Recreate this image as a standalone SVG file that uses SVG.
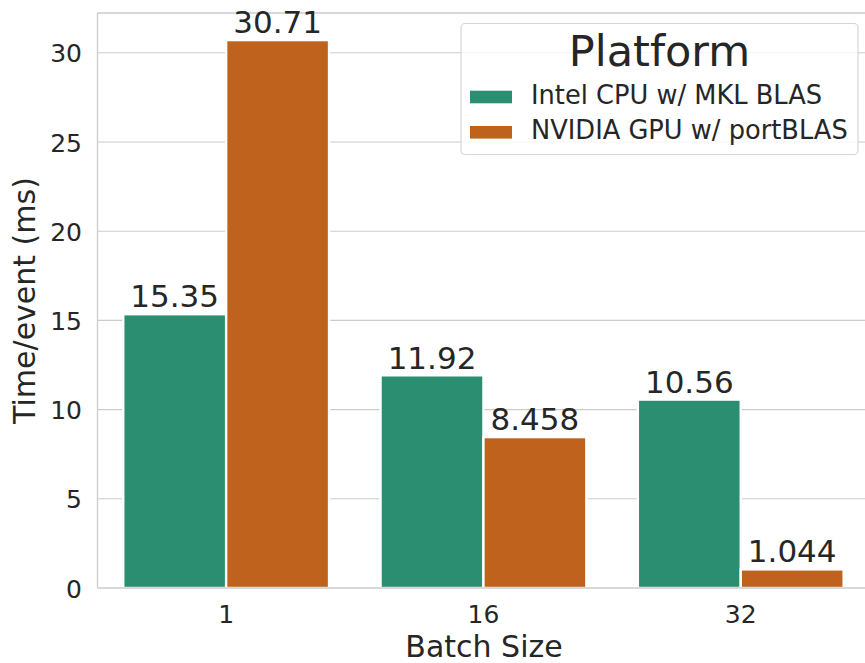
<svg xmlns="http://www.w3.org/2000/svg" width="865" height="663" viewBox="0 0 865 663">
<style>
text{font-family:"DejaVu Sans","Liberation Sans",sans-serif;fill:#262626}
.grid{stroke:#cccccc;stroke-width:1.1}
.spine{stroke:#cccccc;stroke-width:1.3;fill:none}
.ytick{font-size:25px;text-anchor:end}
.xtick{font-size:25px;text-anchor:middle}
.val{font-size:31px;text-anchor:middle}
.axlab{font-size:30px;text-anchor:middle}
.cpu{fill:#2B8E70;stroke:#ffffff;stroke-width:2.4}
.gpu{fill:#BE621D;stroke:#ffffff;stroke-width:2.4}
.leg{font-size:25.7px}
</style>
<rect width="865" height="663" fill="#ffffff"/>
<g id="grid">
<line class="grid" x1="97.5" y1="498.8" x2="865" y2="498.8"/>
<line class="grid" x1="97.5" y1="409.6" x2="865" y2="409.6"/>
<line class="grid" x1="97.5" y1="320.4" x2="865" y2="320.4"/>
<line class="grid" x1="97.5" y1="231.2" x2="865" y2="231.2"/>
<line class="grid" x1="97.5" y1="142" x2="865" y2="142"/>
<line class="grid" x1="97.5" y1="52.8" x2="865" y2="52.8"/>
</g>
<g id="bars">
<rect class="cpu" x="123.25" y="314.2" width="102.9" height="273.8"/>
<rect class="gpu" x="226.15" y="40.1" width="102.9" height="547.9"/>
<rect class="cpu" x="380.55" y="375.3" width="102.9" height="212.7"/>
<rect class="gpu" x="483.45" y="437.1" width="102.9" height="150.9"/>
<rect class="cpu" x="637.85" y="399.6" width="102.9" height="188.4"/>
<rect class="gpu" x="740.75" y="569.4" width="102.9" height="18.6"/>
</g>
<g id="spines">
<line class="spine" x1="97.5" y1="13" x2="97.5" y2="588"/>
<line class="spine" x1="97.5" y1="588" x2="865" y2="588"/>
<line class="spine" x1="97.5" y1="13" x2="865" y2="13"/>
</g>
<g id="value-labels">
<text class="val" x="174.7" y="307">15.35</text>
<text class="val" x="277.6" y="33.3">30.71</text>
<text class="val" x="432" y="368.5">11.92</text>
<text class="val" x="534.9" y="429.5">8.458</text>
<text class="val" x="689.3" y="392.8">10.56</text>
<text class="val" x="792.2" y="562">1.044</text>
</g>
<g id="y-ticks">
<text class="ytick" x="82" y="597.5">0</text>
<text class="ytick" x="82" y="508.3">5</text>
<text class="ytick" x="82" y="419.1">10</text>
<text class="ytick" x="82" y="329.9">15</text>
<text class="ytick" x="82" y="240.7">20</text>
<text class="ytick" x="82" y="151.5">25</text>
<text class="ytick" x="82" y="62.3">30</text>
</g>
<g id="x-ticks">
<text class="xtick" x="226.15" y="622.5">1</text>
<text class="xtick" x="483.45" y="622.5">16</text>
<text class="xtick" x="740.75" y="622.5">32</text>
</g>
<g id="axis-labels">
<text class="axlab" x="484" y="657">Batch Size</text>
<text class="axlab" transform="translate(34.5,300.5) rotate(-90)" x="0" y="0">Time/event (ms)</text>
</g>
<g id="legend">
<rect x="461" y="23.5" width="397" height="131" rx="4" ry="4" fill="#ffffff" fill-opacity="0.8" stroke="#cccccc" stroke-opacity="0.8" stroke-width="1.2"/>
<text x="659.5" y="65.5" font-size="43px" text-anchor="middle">Platform</text>
<rect x="470" y="90.7" width="42" height="12.6" fill="#2B8E70"/>
<text class="leg" x="531" y="104.3">Intel CPU w/ MKL BLAS</text>
<rect x="470" y="126" width="42" height="12.6" fill="#BE621D"/>
<text class="leg" x="531" y="139.3">NVIDIA GPU w/ portBLAS</text>
</g>
</svg>
